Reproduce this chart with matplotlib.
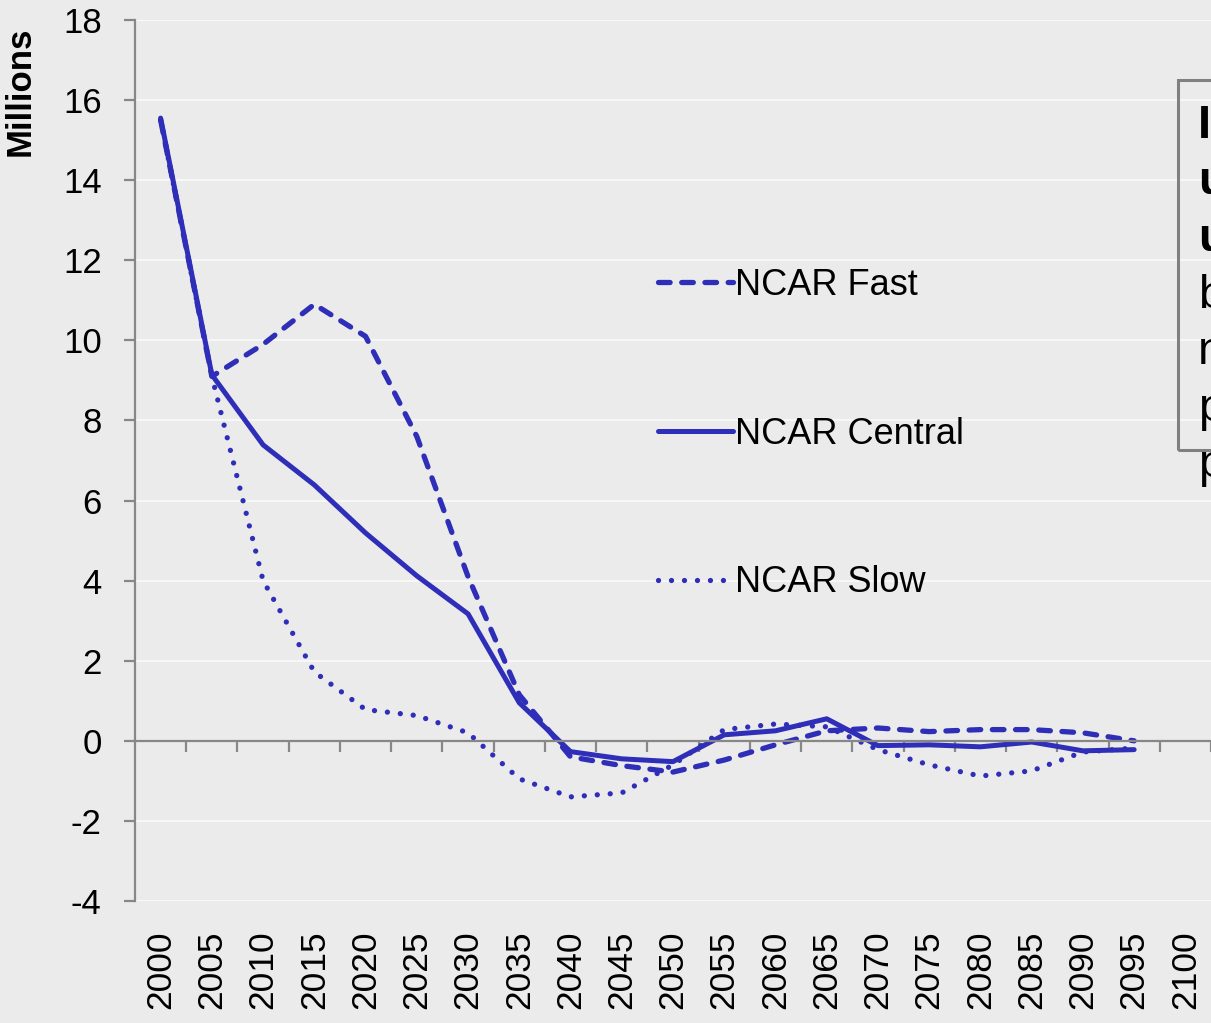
import matplotlib
matplotlib.use("Agg")
import matplotlib.pyplot as plt
from matplotlib.patches import Rectangle

plt.rcParams['font.family'] = ['Liberation Sans', 'DejaVu Sans']
plt.rcParams['axes.unicode_minus'] = False

# --[Data]---------------------------------------------------------------------
years = [str(y) for y in range(2000, 2101, 5)]
data_years = years[:-1]

ncar_fast = [15.5, 9.1, 9.9, 10.9, 10.1, 7.6, 4.1, 1.15, -0.4, -0.62,
             -0.78, -0.48, -0.1, 0.25, 0.32, 0.23, 0.28, 0.28, 0.2, 0.0]
ncar_central = [15.55, 9.14, 7.39, 6.39, 5.19, 4.12, 3.17, 0.95, -0.27, -0.45,
                -0.52, 0.15, 0.25, 0.55, -0.12, -0.1, -0.15, -0.03, -0.25, -0.22]
ncar_slow = [15.5, 9.1, 4.0, 1.72, 0.78, 0.63, 0.2, -0.95, -1.4, -1.3,
             -0.6, 0.28, 0.42, 0.35, -0.22, -0.6, -0.88, -0.75, -0.28, -0.18]

box_lines = [("I", "bold"), ("u", "bold"), ("u", "bold"), ("b", "normal"),
             ("n", "normal"), ("p", "normal"), ("p", "normal")]

# --[Figure]-------------------------------------------------------------------
W, H = 1211, 1023
bg = '#ebebeb'
blue = '#2e2eb8'
grey = '#878787'

fig = plt.figure(figsize=(W / 100, H / 100), dpi=100, facecolor=bg)
ax = fig.add_axes([135 / W, 1 - 901 / H, 1 - 135 / W, (901 - 20) / H])
ax.set_facecolor(bg)

x = list(range(len(data_years)))
ax.plot(x, ncar_fast, color=blue, lw=3.8, linestyle=(0, (2.2, 2.2)),
        dash_capstyle='round', label='NCAR Fast')
ax.plot(x, ncar_central, color=blue, lw=3.6, solid_capstyle='round',
        label='NCAR Central')
ax.plot(x, ncar_slow, color=blue, lw=3.8, linestyle=(0, (0.01, 2.45)),
        dash_capstyle='round', label='NCAR Slow')

ax.set_xlim(-0.5, len(years) - 0.5)
ax.set_ylim(-4, 18)
ax.set_yticks(range(-4, 19, 2))
ax.grid(axis='y', color='#f7f7f7', lw=1.5)
ax.set_axisbelow(True)

for s in ['top', 'right']:
    ax.spines[s].set_visible(False)
ax.spines['left'].set_color(grey)
ax.spines['left'].set_linewidth(1.6)
ax.spines['bottom'].set_position(('data', 0))
ax.spines['bottom'].set_color(grey)
ax.spines['bottom'].set_linewidth(1.6)

# category boundary ticks on the zero line
ax.set_xticks([i + 0.5 for i in range(len(years))])
ax.set_xticklabels([])
ax.tick_params(axis='x', direction='out', length=8, width=1.6, color=grey)
ax.tick_params(axis='y', direction='out', length=8, width=1.6, color=grey,
               labelsize=25, pad=16)

# year labels at the bottom of the plot
sec = ax.secondary_xaxis('bottom')
sec.set_xticks(range(len(years)))
sec.set_xticklabels(years, rotation=90)
sec.tick_params(length=0, pad=21, labelsize=25.5)
sec.spines['bottom'].set_visible(False)

fig.text(20 / W, 1 - 27 / H, 'Millions', rotation=90, fontsize=25,
         fontweight='bold', ha='center', va='top')

fig.legend(loc='upper left', bbox_to_anchor=(658 / W, 1 - 268 / H),
           frameon=False, fontsize=26, handlelength=2.08, handletextpad=0.05,
           labelspacing=3.15, borderpad=0, borderaxespad=0)

# clipped text box at the right edge
fig.patches.append(Rectangle((1178 / W, 1 - 450 / H), 0.2, (450 - 80) / H,
                             transform=fig.transFigure, fill=False,
                             edgecolor='#808080', lw=2.2))
for i, (t, w) in enumerate(box_lines):
    fig.text(1198 / W, 1 - (138 + 56.5 * i) / H, t, fontsize=34,
             fontweight=w, ha='left', va='baseline')

fig.savefig('out.png', dpi=100, facecolor=bg)
